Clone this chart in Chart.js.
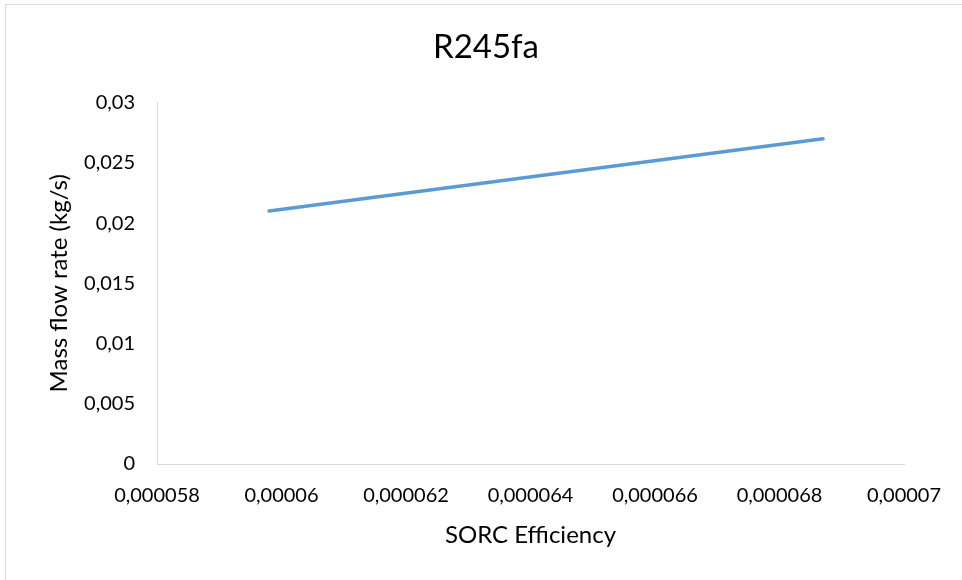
<!DOCTYPE html>
<html>
<head>
<meta charset="utf-8">
<title>R245fa</title>
<script src="https://cdn.jsdelivr.net/npm/chart.js@4/dist/chart.umd.min.js"></script>
<style>
  html, body { margin: 0; padding: 0; background: #ffffff; }
  canvas { display: block; }
</style>
</head>
<body>
<canvas id="massFlowChart" width="962" height="580"></canvas>
<script>
// values
const efficiency = [0.0000598, 0.0000687];
const massFlow = [0.021, 0.027];
const xTicks = [0.000058, 0.00006, 0.000062, 0.000064, 0.000066, 0.000068, 0.00007];
const yTicks = [0, 0.005, 0.01, 0.015, 0.02, 0.025, 0.03];

const textColor = '#000000';
const axisColor = '#d9d9d9';
const fontFamily = 'Lato, "Open Sans", sans-serif';

// decimal comma, like the original
function commaLabel(value) {
    const v = Math.round(value * 1e9) / 1e9;
    return String(v).replace('.', ',');
}

// light frame round the chart (right and bottom edges run off the picture)
const framePlugin = {
    id: 'frame',
    beforeDraw(chart) {
        const ctx = chart.ctx;
        ctx.save();
        ctx.strokeStyle = axisColor;
        ctx.lineWidth = 1;
        ctx.strokeRect(5.5, 4.5, 1000, 1000);
        ctx.restore();
    }
};

document.addEventListener('DOMContentLoaded', () => {
    const points = efficiency.map((x, i) => ({ x: x, y: massFlow[i] }));
    const ctx = document.getElementById('massFlowChart').getContext('2d');

    new Chart(ctx, {
        type: 'line',
        data: {
            datasets: [{
                label: 'R245fa',
                data: points,
                borderColor: '#5b9bd5',
                borderWidth: 3.5,
                borderCapStyle: 'round',
                pointRadius: 0,
                fill: false,
                tension: 0
            }]
        },
        options: {
            responsive: false,
            animation: false,
            // left padding keeps the title centred where Excel put it
            layout: { padding: { left: 68, right: 58, top: 0, bottom: 0 } },
            plugins: {
                legend: { display: false },
                tooltip: { enabled: false },
                title: {
                    display: true,
                    text: 'R245fa',
                    color: textColor,
                    font: { family: fontFamily, size: 33, weight: 'normal' },
                    padding: { top: 28, bottom: 35 }
                }
            },
            scales: {
                x: {
                    type: 'linear',
                    min: xTicks[0],
                    max: xTicks[xTicks.length - 1],
                    afterBuildTicks: (scale) => { scale.ticks = xTicks.map(v => ({ value: v })); },
                    afterFit: (scale) => { scale.height = 116; },
                    grid: { display: false, drawTicks: false },
                    border: { display: true, color: axisColor, width: 1 },
                    ticks: {
                        color: textColor,
                        padding: 20,
                        maxRotation: 0,
                        autoSkip: false,
                        font: { family: fontFamily, size: 20 },
                        callback: (value) => commaLabel(value)
                    },
                    title: {
                        display: true,
                        text: 'SORC Efficiency',
                        color: textColor,
                        font: { family: fontFamily, size: 24 },
                        padding: { top: 0, bottom: 30 }
                    }
                },
                y: {
                    min: yTicks[0],
                    max: yTicks[yTicks.length - 1],
                    afterBuildTicks: (scale) => { scale.ticks = yTicks.map(v => ({ value: v })); },
                    afterFit: (scale) => { scale.width = 89; },
                    grid: { display: false, drawTicks: false },
                    border: { display: true, color: axisColor, width: 1 },
                    ticks: {
                        color: textColor,
                        padding: 22,
                        font: { family: fontFamily, size: 20 },
                        callback: (value) => commaLabel(value)
                    },
                    title: {
                        display: true,
                        text: 'Mass flow rate (kg/s)',
                        color: textColor,
                        font: { family: fontFamily, size: 24 },
                        padding: { top: -23, bottom: 0 }
                    }
                }
            }
        },
        plugins: [framePlugin]
    });
});
</script>
</body>
</html>
